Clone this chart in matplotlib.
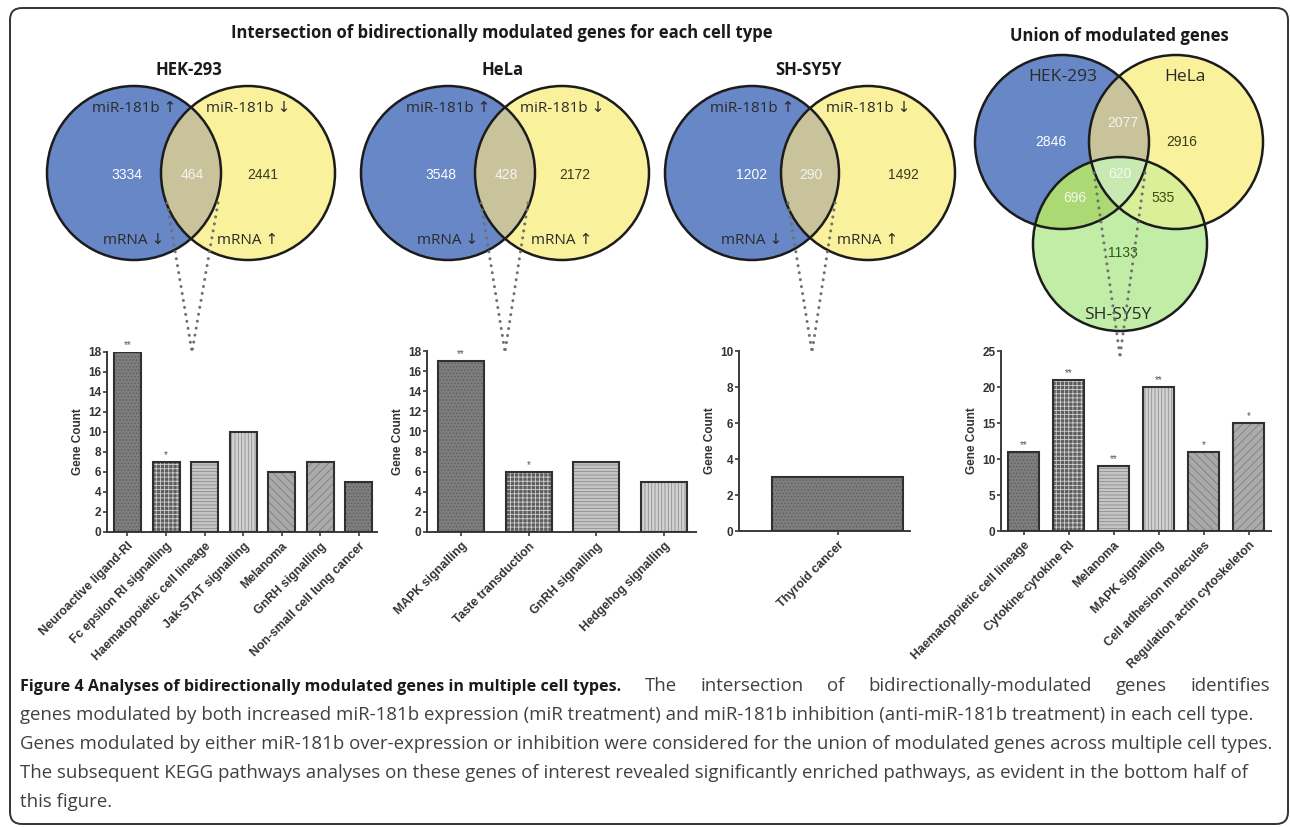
import numpy as np
import matplotlib.pyplot as plt
from matplotlib.patches import Circle, Polygon, FancyBboxPatch

W, H = 1290, 827

# ---- data ----
venn_cells = ['HEK-293', 'HeLa', 'SH-SY5Y']
venn_up_only = [3334, 3548, 1202]      # miR-181b up / mRNA down only
venn_both = [464, 428, 290]            # bidirectionally modulated
venn_down_only = [2441, 2172, 1492]    # miR-181b down / mRNA up only

union_sets = ['HEK-293', 'HeLa', 'SH-SY5Y']
union_only = [2846, 2916, 1133]        # HEK, HeLa, SH-SY5Y alone
union_pairs = [2077, 696, 535]         # HEK&HeLa, HEK&SH, HeLa&SH
union_all = 620

hek_terms = ['Neuroactive ligand-RI', 'Fc epsilon RI signalling', 'Haematopoietic cell lineage',
             'Jak-STAT signalling', 'Melanoma', 'GnRH signalling', 'Non-small cell lung cancer']
hek_counts = [18, 7, 7, 10, 6, 7, 5]
hek_stars = ['**', '*', '', '', '', '', '']

hela_terms = ['MAPK signalling', 'Taste transduction', 'GnRH signalling', 'Hedgehog signalling']
hela_counts = [17, 6, 7, 5]
hela_stars = ['**', '*', '', '']

sh_terms = ['Thyroid cancer']
sh_counts = [3]
sh_stars = ['']

union_terms = ['Haematopoietic cell lineage', 'Cytokine-cytokine RI', 'Melanoma', 'MAPK signalling',
               'Cell adhesion molecules', 'Regulation actin cytoskeleton']
union_counts = [11, 21, 9, 20, 11, 15]
union_stars = ['**', '**', '**', '**', '*', '*']

cap_bold = 'Figure 4 Analyses of bidirectionally modulated genes in multiple cell types.'
cap_lines = ['The intersection of bidirectionally-modulated genes identifies',
             'genes modulated by both increased miR-181b expression (miR treatment) and miR-181b inhibition (anti-miR-181b treatment) in each cell type.',
             'Genes modulated by either miR-181b over-expression or inhibition were considered for the union of modulated genes across multiple cell types.',
             'The subsequent KEGG pathways analyses on these genes of interest revealed significantly enriched pathways, as evident in the bottom half of',
             'this figure.']

# colours
BLUE = '#6787c7'
YELLOW = '#f9f19b'
BY = '#c9c39c'
GREEN = '#c2eda7'
BG = '#abd974'
YG = '#d9ef98'
BYG = '#c8eab2'
SANS = ['Open Sans', 'DejaVu Sans']
ARIAL = ['Liberation Sans', 'DejaVu Sans']

plt.rcParams['hatch.linewidth'] = 0.6


def circle_pts(cx, cy, r, n=360):
    t = np.linspace(0, 2 * np.pi, n, endpoint=False)
    return np.column_stack([cx + r * np.cos(t), cy + r * np.sin(t)])


def seg_cross(p1, p2, a, b):
    d1 = p2 - p1
    d2 = b - a
    den = d1[0] * d2[1] - d1[1] * d2[0]
    t = ((a[0] - p1[0]) * d2[1] - (a[1] - p1[1]) * d2[0]) / den
    return p1 + t * d1


def clip_poly(subject, clipper):
    # Sutherland-Hodgman, both convex and counter-clockwise
    out = [np.asarray(p) for p in subject]
    m = len(clipper)
    for i in range(m):
        a, b = clipper[i], clipper[(i + 1) % m]
        inp, out = out, []
        if not inp:
            break
        inside = lambda p: (b[0] - a[0]) * (p[1] - a[1]) - (b[1] - a[1]) * (p[0] - a[0]) >= 0
        s = inp[-1]
        for e in inp:
            if inside(e):
                if not inside(s):
                    out.append(seg_cross(s, e, a, b))
                out.append(e)
            elif inside(s):
                out.append(seg_cross(s, e, a, b))
            s = e
    return np.array(out)


fig = plt.figure(figsize=(W / 100, H / 100), dpi=100)
ax0 = fig.add_axes([0, 0, 1, 1])
ax0.set_xlim(0, W)
ax0.set_ylim(H, 0)
ax0.axis('off')

ax0.add_patch(FancyBboxPatch((10, 8), 1278, 816, boxstyle='round,pad=0,rounding_size=12',
                             fill=False, ec='#333333', lw=1.4))

ax0.text(502, 33, 'Intersection of bidirectionally modulated genes for each cell type',
         ha='center', va='center', fontsize=12, fontweight='bold', family=SANS, color='#1a1a1a')
ax0.text(1119, 36, 'Union of modulated genes', ha='center', va='center', fontsize=12,
         fontweight='bold', family=SANS, color='#1a1a1a')

# ---- two-set venns ----
R = 87
cy = 173
blue_x = [134, 448, 752]
yell_x = [248, 562, 868]
left_lab_x = [127, 441, 752]
right_lab_x = [263, 575, 903]
for i, cell in enumerate(venn_cells):
    bx, yx = blue_x[i], yell_x[i]
    pb = circle_pts(bx, cy, R)
    py = circle_pts(yx, cy, R)
    ax0.add_patch(Polygon(pb, closed=True, fc=BLUE, ec='none', zorder=1))
    ax0.add_patch(Polygon(py, closed=True, fc=YELLOW, ec='none', zorder=1))
    ax0.add_patch(Polygon(clip_poly(pb, py), closed=True, fc=BY, ec='none', zorder=2))
    for c in (bx, yx):
        ax0.add_patch(Circle((c, cy), R, fill=False, ec='#1c1c1c', lw=1.8, zorder=3))
    ax0.text((bx + yx) / 2 - 2, 70, cell, ha='center', va='center', fontsize=12,
             fontweight='bold', family=SANS, color='#1a1a1a')
    ax0.text(bx, 108, 'miR-181b \u2191', ha='center', va='center', fontsize=11, family=SANS, color='#2a2a2a', zorder=4)
    ax0.text(yx, 108, 'miR-181b \u2193', ha='center', va='center', fontsize=11, family=SANS, color='#2a2a2a', zorder=4)
    ax0.text(bx, 240, 'mRNA \u2193', ha='center', va='center', fontsize=11, family=SANS, color='#2a2a2a', zorder=4)
    ax0.text(yx, 240, 'mRNA \u2191', ha='center', va='center', fontsize=11, family=SANS, color='#2a2a2a', zorder=4)
    ax0.text(left_lab_x[i], 175, str(venn_up_only[i]), ha='center', va='center', fontsize=10,
             family=ARIAL, color='white', zorder=4)
    ax0.text((bx + yx) / 2 + 1, 175, str(venn_both[i]), ha='center', va='center', fontsize=10,
             family=ARIAL, color='#f4f4f0', zorder=4)
    ax0.text(right_lab_x[i], 175, str(venn_down_only[i]), ha='center', va='center', fontsize=10,
             family=ARIAL, color='#3a3a20', zorder=4)

# ---- three-set union venn ----
ub = circle_pts(1062, 142, R)
uy = circle_pts(1176, 142, R)
ug = circle_pts(1120, 244, R)
for p, c in [(ub, BLUE), (uy, YELLOW), (ug, GREEN)]:
    ax0.add_patch(Polygon(p, closed=True, fc=c, ec='none', zorder=1))
by = clip_poly(ub, uy)
ax0.add_patch(Polygon(by, closed=True, fc=BY, ec='none', zorder=2))
ax0.add_patch(Polygon(clip_poly(ub, ug), closed=True, fc=BG, ec='none', zorder=2))
ax0.add_patch(Polygon(clip_poly(uy, ug), closed=True, fc=YG, ec='none', zorder=2))
ax0.add_patch(Polygon(clip_poly(by, ug), closed=True, fc=BYG, ec='none', zorder=2))
for (cx, cyy) in [(1062, 142), (1176, 142), (1120, 244)]:
    ax0.add_patch(Circle((cx, cyy), R, fill=False, ec='#1c1c1c', lw=1.8, zorder=3))

ax0.text(1063, 77, union_sets[0], ha='center', va='center', fontsize=12.5, family=SANS, color='#2a2a2a', zorder=4)
ax0.text(1185, 77, union_sets[1], ha='center', va='center', fontsize=12.5, family=SANS, color='#2a2a2a', zorder=4)
ax0.text(1118, 315, union_sets[2], ha='center', va='center', fontsize=12.5, family=SANS, color='#2a2a2a', zorder=4)
num_kw = dict(ha='center', va='center', fontsize=10, family=ARIAL, zorder=4)
ax0.text(1051, 142, str(union_only[0]), color='white', **num_kw)
ax0.text(1182, 142, str(union_only[1]), color='#3a3a20', **num_kw)
ax0.text(1123, 253, str(union_only[2]), color='#2d5a1e', **num_kw)
ax0.text(1123, 123, str(union_pairs[0]), color='#f4f4f0', **num_kw)
ax0.text(1075, 198, str(union_pairs[1]), color='#f4f8ee', **num_kw)
ax0.text(1163, 198, str(union_pairs[2]), color='#3d4a10', **num_kw)
ax0.text(1120, 174, str(union_all), color='#f6faf2', **num_kw)

# ---- dotted connectors ----
connectors = [((167, 203), (218, 203), (192, 352)),
              ((481, 203), (528, 203), (505, 352)),
              ((788, 203), (835, 203), (812, 352)),
              ((1094, 173), (1145, 173), (1120, 356))]
for l, r, tip in connectors:
    for start in (l, r):
        ax0.plot([start[0], tip[0]], [start[1], tip[1]], color='#707070', lw=2.2,
                 linestyle=(0, (0.01, 2.3)), dash_capstyle='round', zorder=5)

# ---- bar charts ----
styles = [('#7e7e7e', '#5c5c5c', '.....'),
          ('#5e5e5e', '#d0d0d0', '++++'),
          ('#c6c6c6', '#8a8a8a', '-----'),
          ('#d2d2d2', '#8f8f8f', '|||||'),
          ('#a9a9a9', '#7e7e7e', '\\\\\\\\'),
          ('#ababab', '#808080', '////'),
          ('#7e7e7e', '#5c5c5c', '.....')]
LAB = 8.8


def bar_panel(box, xlim, width, terms, counts, stars, ymax, ystep):
    x0, x1, ytop, ybot = box
    ax = fig.add_axes([x0 / W, 1 - ybot / H, (x1 - x0) / W, (ybot - ytop) / H])
    ax.set_facecolor('none')
    xs = np.arange(len(terms))
    for i, (x, c) in enumerate(zip(xs, counts)):
        fc, hc, hatch = styles[i % len(styles)]
        ax.bar(x, c, width=width, color=fc, edgecolor=hc, hatch=hatch, linewidth=0, zorder=2)
        ax.bar(x, c, width=width, fill=False, edgecolor='#303030', linewidth=1.5, zorder=3)
        if stars[i]:
            ax.annotate(stars[i], (x, c), xytext=(0, 1.5), textcoords='offset points',
                        ha='center', va='bottom', fontsize=7, color='#555555', family=ARIAL)
    ax.set_xlim(*xlim)
    ax.set_ylim(0, ymax)
    ax.set_yticks(np.arange(0, ymax + 0.1, ystep))
    ax.set_xticks(xs)
    ax.set_xticklabels(terms, rotation=45, ha='right', va='top', rotation_mode='anchor',
                       fontsize=LAB, fontweight='bold', family=ARIAL, color='#333333')
    for lab in ax.get_yticklabels():
        lab.set_fontweight('bold')
        lab.set_family(ARIAL)
    ax.tick_params(axis='y', labelsize=8.5, labelcolor='#333333', length=3, width=1.2,
                   color='#3a3a3a', pad=1)
    ax.tick_params(axis='x', length=3, width=1.2, color='#3a3a3a', pad=3)
    ax.set_ylabel('Gene Count', fontsize=8.5, fontweight='bold', family=ARIAL,
                  color='#333333', labelpad=3)
    for s in ('top', 'right'):
        ax.spines[s].set_visible(False)
    for s in ('left', 'bottom'):
        ax.spines[s].set_color('#3a3a3a')
        ax.spines[s].set_linewidth(1.4)
    return ax


bar_panel((107, 377, 352, 532), (-0.53, 6.47), 0.7, hek_terms, hek_counts, hek_stars, 18, 2)
bar_panel((427, 696, 351, 532), (-0.5, 3.47), 0.68, hela_terms, hela_counts, hela_stars, 18, 2)
bar_panel((739, 910, 351, 531), (-0.6, 0.44), 0.8, sh_terms, sh_counts, sh_stars, 10, 2)
bar_panel((1001, 1271, 351, 531), (-0.5, 5.5), 0.69, union_terms, union_counts, union_stars, 25, 5)

# ---- caption (justified like the journal layout) ----
fig.canvas.draw()
renderer = fig.canvas.get_renderer()
probe = ax0.text(0, 0, cap_lines[2], fontsize=12, family=SANS)
cap_size = 12 * 1246 / probe.get_window_extent(renderer).width
probe.remove()
probe = ax0.text(0, 0, cap_bold, fontsize=12, fontweight='bold', family=SANS)
bold_size = 12 * 601 / probe.get_window_extent(renderer).width
probe.remove()

line_y = [683, 712, 741, 770, 799]
tb = ax0.text(20, line_y[0] + 8, cap_bold, fontsize=bold_size, fontweight='bold', family=SANS,
              color='#1a1a1a', ha='left', va='baseline')
bold_end = tb.get_window_extent(renderer).x1
words = cap_lines[0].split()
word_txt = [ax0.text(0, line_y[0] + 8, w, fontsize=cap_size, family=SANS, color='#404040',
                     ha='left', va='baseline') for w in words]
widths = [t.get_window_extent(renderer).width for t in word_txt]
gap = (1270 - bold_end - sum(widths)) / len(words)
x = bold_end + gap
for t, w in zip(word_txt, widths):
    t.set_x(x)
    x += w + gap
for y, line in zip(line_y[1:], cap_lines[1:]):
    ax0.text(20, y + 8, line, fontsize=cap_size, family=SANS, color='#404040', ha='left', va='baseline')

fig.savefig('out.png', dpi=100)
